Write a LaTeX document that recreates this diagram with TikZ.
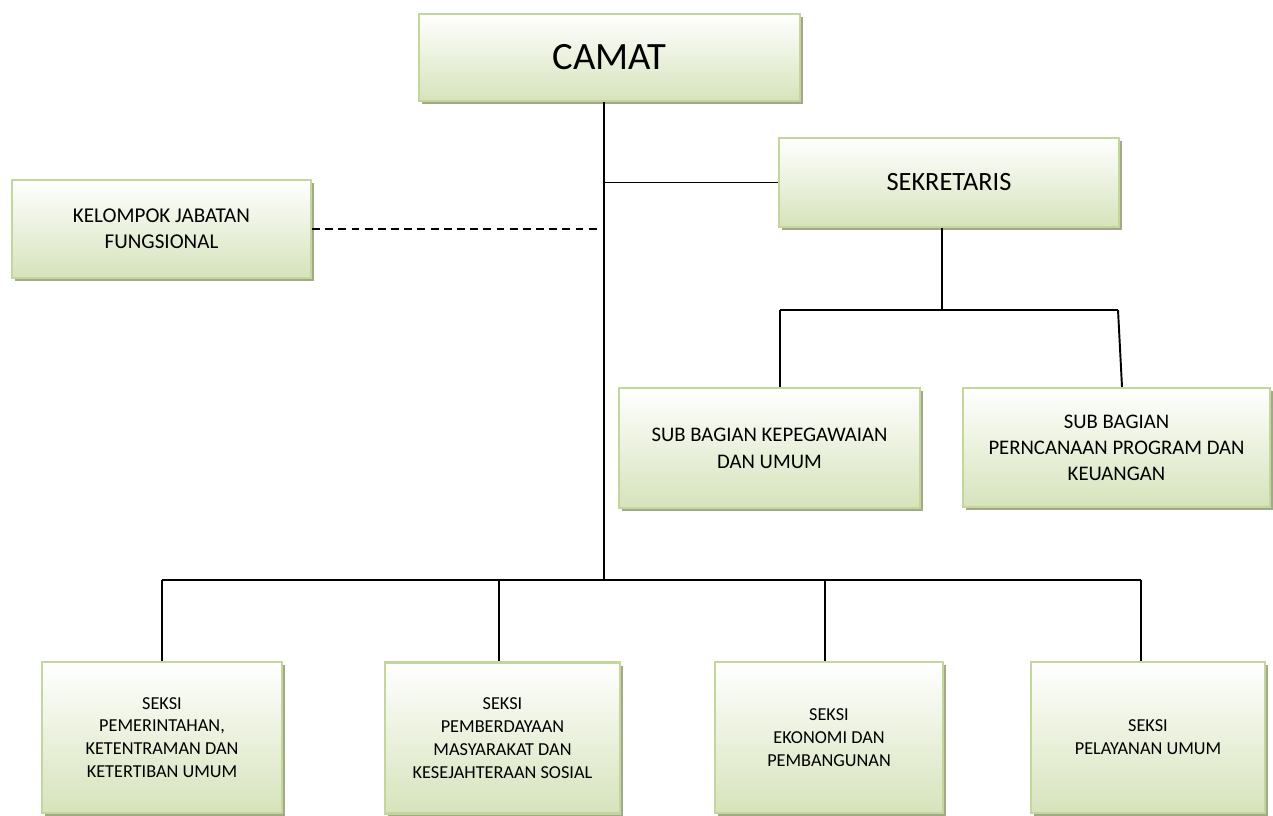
\documentclass[tikz,border=0pt]{standalone}
\usepackage{fontspec}
\setmainfont{Carlito}
\usetikzlibrary{shadows}
\definecolor{boxline}{RGB}{195,214,155}
\definecolor{boxfill}{RGB}{214,227,187}
\definecolor{boxshade}{RGB}{162,168,138}

\begin{document}
\begin{tikzpicture}[x=0.02cm,y=-0.02cm,
    orgbox/.style={draw=boxline,line width=1.2pt,top color=white,bottom color=boxfill,
        align=center,inner sep=2pt,
        drop shadow={shadow xshift=0.06cm,shadow yshift=-0.06cm,fill=boxshade,opacity=1}},
    link/.style={line width=1.1pt}]
        \useasboundingbox (0,0) rectangle (1273,815);
        \coordinate (trunk) at (604,580);
        \coordinate (sbar) at (942,310);
        \coordinate (subl) at (780,310);
        \coordinate (subr) at (1118,310);
        \coordinate (d1) at (162,580);
        \coordinate (d2) at (499,580);
        \coordinate (d3) at (825,580);
        \coordinate (d4) at (1141,580);
        \node[orgbox,minimum width=7.62cm,minimum height=1.74cm,font=\fontsize{22}{26}\selectfont] (camat) at (609.5,57.5) {CAMAT};
        \node[orgbox,minimum width=6.8cm,minimum height=1.78cm,font=\fontsize{15}{18}\selectfont] (sekr) at (949,182.5) {SEKRETARIS};
        \node[orgbox,minimum width=5.98cm,minimum height=1.96cm,font=\fontsize{12}{15}\selectfont] (kjf) at (161.5,229) {KELOMPOK JABATAN\\FUNGSIONAL};
        \node[orgbox,minimum width=6.02cm,minimum height=2.4cm,font=\fontsize{11.8}{15.2}\selectfont] (subkep) at (769.5,448) {SUB BAGIAN KEPEGAWAIAN\\DAN UMUM};
        \node[orgbox,minimum width=6.14cm,minimum height=2.38cm,font=\fontsize{11.8}{14.8}\selectfont] (subprog) at (1116.5,447.5) {SUB BAGIAN\\PERNCANAAN PROGRAM DAN\\KEUANGAN};
        \node[orgbox,minimum width=4.8cm,minimum height=3.02cm,font=\fontsize{10.4}{13}\selectfont] (seksi1) at (162,737.5) {SEKSI\\PEMERINTAHAN,\\KETENTRAMAN DAN\\KETERTIBAN UMUM};
        \node[orgbox,minimum width=4.7cm,minimum height=3.02cm,font=\fontsize{10.4}{13}\selectfont] (seksi2) at (502.5,738) {SEKSI\\PEMBERDAYAAN\\MASYARAKAT DAN\\KESEJAHTERAAN SOSIAL};
        \node[orgbox,minimum width=4.56cm,minimum height=3.02cm,font=\fontsize{10.4}{13}\selectfont] (seksi3) at (829,737.5) {SEKSI\\EKONOMI DAN\\PEMBANGUNAN};
        \node[orgbox,minimum width=4.68cm,minimum height=3.02cm,font=\fontsize{10.4}{13}\selectfont] (seksi4) at (1148,737.5) {SEKSI\\PELAYANAN UMUM};
        % garis camat
        \draw[link] (camat.south -| trunk) -- (trunk);
        \draw[link] (sekr.west) -- (sekr.west -| trunk);
        \draw[link,dash pattern=on 4.5pt off 3pt,shorten >=0.08cm] (kjf.east) -- (kjf.east -| trunk);
        % garis sekretaris
        \draw[link] (sekr.south -| sbar) -- (sbar);
        \draw[link] (subl) -- (subr);
        \draw[link] (subl) -- (subl |- subkep.north);
        \draw[link] (subr) -- ([xshift=0.08cm]subr |- subprog.north);
        % garis seksi
        \draw[link] (d1) -- (d4);
        \draw[link] (d1) -- (d1 |- seksi1.north);
        \draw[link] (d2) -- (d2 |- seksi2.north);
        \draw[link] (d3) -- (d3 |- seksi3.north);
        \draw[link] (d4) -- (d4 |- seksi4.north);
\end{tikzpicture}
\end{document}
